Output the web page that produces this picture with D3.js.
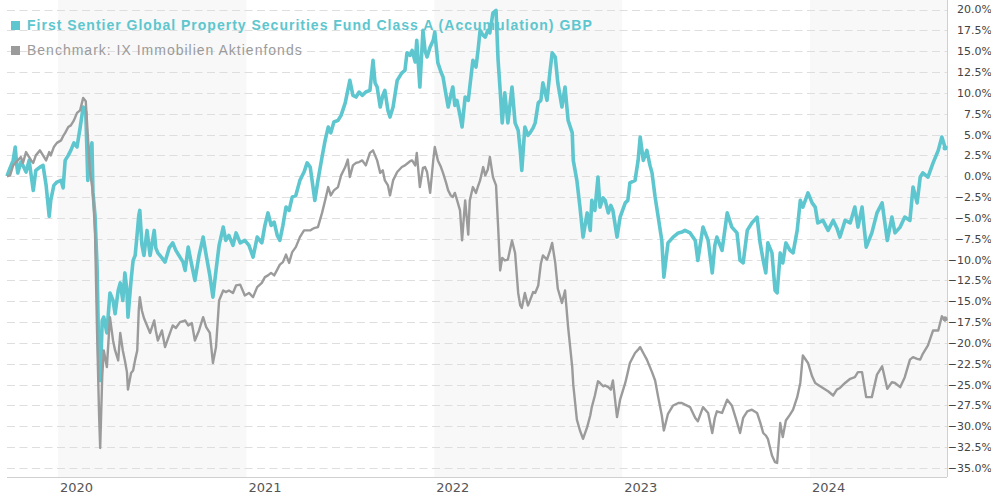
<!DOCTYPE html>
<html>
<head>
<meta charset="utf-8">
<script src="https://cdn.jsdelivr.net/npm/d3@7"></script>
<style>
  body { margin: 0; background: #fff; }
  svg { display: block; }
</style>
</head>
<body>
<div id="chart"></div>
<script>
// Series labels and colours
const fundName = "First Sentier Global Property Securities Fund Class A (Accumulation) GBP";
const benchName = "Benchmark: IX Immobilien Aktienfonds";

// Y ticks (percent) and year labels
const yTicks = [20, 17.5, 15, 12.5, 10, 7.5, 5, 2.5, 0, -2.5, -5, -7.5, -10, -12.5, -15, -17.5, -20, -22.5, -25, -27.5, -30, -32.5, -35];
const yearLabels = ["2020", "2021", "2022", "2023", "2024"];
const shadedYears = ["2020", "2022", "2024"];

// Observation dates (shared by both series)
const dates = [
  "2019-09-24","2019-09-30","2019-10-06","2019-10-10","2019-10-13","2019-10-15","2019-10-21","2019-10-25","2019-10-31","2019-11-06",
  "2019-11-10","2019-11-14","2019-11-19","2019-11-27","2019-12-03","2019-12-09","2019-12-15","2019-12-18","2019-12-24","2019-12-30",
  "2020-01-07","2020-01-11","2020-01-15","2020-01-21","2020-01-26","2020-02-01","2020-02-07","2020-02-13","2020-02-19","2020-02-24",
  "2020-02-28","2020-03-03","2020-03-07","2020-03-09","2020-03-13","2020-03-17","2020-03-21","2020-03-23","2020-03-27","2020-03-30",
  "2020-04-05","2020-04-11","2020-04-17","2020-04-21","2020-04-27","2020-05-01","2020-05-06","2020-05-10","2020-05-14","2020-05-16",
  "2020-05-22","2020-05-26","2020-05-30","2020-06-03","2020-06-06","2020-06-08","2020-06-12","2020-06-16","2020-06-22","2020-06-28",
  "2020-07-06","2020-07-09","2020-07-13","2020-07-21","2020-07-27","2020-08-04","2020-08-11","2020-08-17","2020-08-25","2020-08-31",
  "2020-09-04","2020-09-10","2020-09-17","2020-09-23","2020-10-01","2020-10-09","2020-10-15","2020-10-22","2020-10-28","2020-11-03",
  "2020-11-09","2020-11-17","2020-11-22","2020-11-28","2020-12-06","2020-12-12","2020-12-20","2020-12-29","2021-01-06","2021-01-14",
  "2021-01-22","2021-01-31","2021-02-06","2021-02-12","2021-02-18","2021-02-24","2021-03-02","2021-03-07","2021-03-13","2021-03-19",
  "2021-03-25","2021-03-31","2021-04-07","2021-04-15","2021-04-23","2021-04-29","2021-05-05","2021-05-10","2021-05-14","2021-05-20",
  "2021-05-28","2021-06-03","2021-06-09","2021-06-14","2021-06-20","2021-06-28","2021-07-04","2021-07-12","2021-07-17","2021-07-21",
  "2021-07-27","2021-08-02","2021-08-08","2021-08-14","2021-08-21","2021-08-29","2021-09-04","2021-09-08","2021-09-12","2021-09-18",
  "2021-09-23","2021-09-27","2021-10-03","2021-10-07","2021-10-13","2021-10-21","2021-10-30","2021-11-05","2021-11-09","2021-11-15",
  "2021-11-19","2021-11-25","2021-11-28","2021-12-04","2021-12-10","2021-12-14","2021-12-18","2021-12-24","2021-12-30","2022-01-02",
  "2022-01-08","2022-01-14","2022-01-18","2022-01-24","2022-01-28","2022-02-02","2022-02-06","2022-02-10","2022-02-14","2022-02-20",
  "2022-02-24","2022-03-02","2022-03-08","2022-03-11","2022-03-17","2022-03-23","2022-03-27","2022-03-31","2022-04-06","2022-04-10",
  "2022-04-15","2022-04-19","2022-04-25","2022-05-01","2022-05-05","2022-05-09","2022-05-13","2022-05-18","2022-05-24","2022-06-01",
  "2022-06-07","2022-06-13","2022-06-17","2022-06-20","2022-06-26","2022-07-02","2022-07-06","2022-07-12","2022-07-16","2022-07-22",
  "2022-07-27","2022-07-31","2022-08-08","2022-08-14","2022-08-18","2022-08-24","2022-08-29","2022-09-06","2022-09-12","2022-09-18",
  "2022-09-26","2022-09-28","2022-10-05","2022-10-11","2022-10-17","2022-10-25","2022-10-31","2022-11-03","2022-11-09","2022-11-15",
  "2022-11-19","2022-11-25","2022-11-29","2022-12-05","2022-12-10","2022-12-14","2022-12-22","2022-12-28","2023-01-07","2023-01-12",
  "2023-01-16","2023-01-26","2023-02-01","2023-02-05","2023-02-11","2023-02-18","2023-02-24","2023-02-28","2023-03-06","2023-03-12",
  "2023-03-19","2023-03-23","2023-03-31","2023-04-10","2023-04-20","2023-04-27","2023-05-03","2023-05-13","2023-05-23","2023-05-28",
  "2023-06-07","2023-06-17","2023-06-25","2023-06-30","2023-07-04","2023-07-14","2023-07-24","2023-08-02","2023-08-12","2023-08-18",
  "2023-08-24","2023-09-01","2023-09-10","2023-09-20","2023-09-26","2023-10-02","2023-10-07","2023-10-11","2023-10-19","2023-10-25",
  "2023-10-29","2023-11-04","2023-11-09","2023-11-15","2023-11-23","2023-11-29","2023-12-07","2023-12-13","2023-12-18","2023-12-28",
  "2024-01-05","2024-01-11","2024-01-16","2024-01-26","2024-02-05","2024-02-15","2024-02-22","2024-02-28","2024-03-09","2024-03-19",
  "2024-03-28","2024-04-03","2024-04-11","2024-04-19","2024-04-30","2024-05-10","2024-05-20","2024-05-30","2024-06-08","2024-06-14",
  "2024-06-24","2024-07-03","2024-07-13","2024-07-19","2024-07-27","2024-08-02","2024-08-07","2024-08-17","2024-08-27","2024-09-06",
  "2024-09-13","2024-09-19","2024-09-23"
];

// Fund performance (%)
const fundValues = [
  0.0, 1.0, 1.9, 3.5, 1.3, 0.4, 1.7, 1.3, 0.5, 1.9,
  0.1, -1.7, 0.7, 1.1, 1.3, -1.1, -4.8, -2.9, -1.1, -0.7,
  -0.5, -1.4, 1.9, 2.5, 3.1, 4.0, 3.5, 5.8, 8.3, 7.7,
  -0.5, 3.1, 4.0, -2.0, -4.7, -10.9, -24.1, -24.5, -17.3, -16.9,
  -18.8, -14.0, -14.9, -16.5, -13.7, -12.8, -14.9, -11.6, -13.7, -16.9,
  -12.5, -10.1, -9.5, -6.8, -4.7, -4.1, -8.2, -9.5, -6.5, -9.5,
  -6.5, -8.6, -9.2, -9.8, -10.3, -8.6, -8.0, -8.9, -9.7, -10.3,
  -11.3, -8.5, -10.7, -12.5, -9.5, -7.3, -9.5, -11.9, -14.5, -11.3,
  -8.3, -6.1, -7.7, -7.1, -8.3, -6.8, -8.0, -7.7, -8.3, -9.7,
  -7.3, -8.0, -5.9, -4.4, -5.9, -5.5, -7.1, -7.7, -5.9, -3.7,
  -4.1, -2.5, -2.3, -0.5, 0.5, 1.6, 1.1, -1.1, -2.9, -0.5,
  2.3, 4.3, 5.9, 5.2, 6.5, 6.7, 7.3, 8.8, 10.3, 11.5,
  9.7, 9.5, 10.1, 9.7, 10.1, 10.3, 13.9, 11.2, 10.7, 8.3,
  9.7, 10.3, 7.9, 7.1, 8.3, 11.5, 12.4, 12.7, 14.8, 14.5,
  15.1, 13.7, 16.3, 10.7, 17.5, 15.1, 14.3, 15.5, 16.3, 17.3,
  13.6, 12.5, 11.9, 9.7, 8.3, 9.7, 10.7, 8.5, 9.1, 7.3,
  5.9, 9.5, 9.1, 10.7, 13.9, 13.1, 15.1, 17.5, 16.9, 16.7,
  17.5, 17.2, 19.6, 19.9, 13.9, 10.3, 6.4, 10.0, 6.4, 10.7,
  6.4, 5.5, 3.1, 0.7, 5.9, 4.9, 5.2, 5.8, 6.4, 8.8,
  9.1, 11.2, 9.1, 12.7, 14.8, 14.3, 11.2, 8.3, 10.7, 6.7,
  5.2, 1.9, -0.5, -3.7, -7.3, -4.4, -6.5, -2.9, -4.1, -0.1,
  -3.7, -2.6, -2.9, -4.4, -3.5, -4.1, -7.3, -4.9, -3.2, -2.9,
  -0.8, -0.5, 1.9, 4.7, 1.9, 3.1, 1.3, 0.4, -2.5, -4.9,
  -7.7, -12.1, -8.0, -7.3, -6.8, -6.7, -6.5, -6.8, -7.7, -10.1,
  -6.1, -7.7, -11.6, -8.3, -7.3, -8.9, -4.4, -6.1, -6.8, -10.1,
  -10.4, -6.5, -5.6, -4.9, -8.0, -10.1, -11.6, -8.0, -9.2, -13.7,
  -14.0, -9.2, -10.4, -8.0, -8.9, -9.2, -6.5, -2.9, -3.7, -2.0,
  -3.2, -3.7, -5.6, -5.3, -6.5, -5.3, -6.2, -7.3, -5.3, -5.6,
  -3.7, -6.1, -3.7, -8.5, -6.8, -4.4, -3.2, -7.7, -4.9, -6.8,
  -6.1, -4.9, -5.3, -1.3, -3.2, -0.1, 0.4, -0.1, 1.6, 3.1,
  4.7, 3.5, 3.4
];

// Benchmark performance (%)
const benchValues = [
  0.0, 0.1, 1.3, 1.6, 1.8, 1.9, 2.3, 1.6, 2.9, 2.3,
  1.9, 1.6, 2.5, 3.1, 2.5, 1.9, 2.9, 2.5, 3.5, 4.0,
  4.3, 4.8, 5.2, 5.9, 6.1, 6.7, 7.6, 7.9, 9.4, 9.0,
  4.9, 0.7, -1.1, -2.0, -6.8, -18.8, -28.9, -32.6, -24.0, -20.9,
  -22.9, -16.9, -19.7, -20.9, -22.1, -18.8, -20.9, -22.1, -23.5, -25.6,
  -23.6, -23.3, -22.0, -20.9, -16.0, -14.5, -16.1, -17.0, -17.9, -18.8,
  -17.3, -18.5, -19.7, -18.5, -20.5, -19.1, -17.9, -18.2, -17.5, -17.4,
  -17.3, -17.9, -17.6, -19.7, -18.5, -16.9, -18.1, -18.8, -22.4, -20.5,
  -14.9, -13.7, -13.9, -13.7, -14.0, -13.1, -13.0, -14.3, -14.0, -14.5,
  -13.3, -12.8, -12.1, -11.9, -11.6, -11.9, -11.2, -10.6, -10.3, -9.4,
  -10.4, -9.1, -8.5, -7.3, -6.5, -6.5, -6.5, -6.3, -6.2, -6.1,
  -4.4, -2.9, -1.3, -2.3, -1.7, -1.3, 0.1, 1.1, 2.0, -0.1,
  1.3, 1.6, 1.7, 1.9, 1.3, 2.8, 3.1, 2.5, 1.9, 0.4,
  0.7, -0.5, -1.1, -2.3, -0.5, 0.5, 1.1, 1.3, 1.5, 1.8,
  1.9, 1.3, 2.8, -1.3, 1.0, 1.1, 0.5, -2.0, 1.9, 3.5,
  1.9, 1.1, 0.4, -0.8, -1.7, -2.3, -2.5, -2.0, -2.8, -4.1,
  -7.7, -2.9, -7.0, -2.9, -1.3, -2.0, -1.2, -0.5, 1.1, 0.1,
  0.8, 2.3, -0.1, -1.1, -6.0, -11.3, -9.8, -10.1, -10.0, -7.7,
  -9.2, -14.0, -15.5, -15.8, -14.0, -15.5, -14.9, -13.9, -14.0, -13.1,
  -10.5, -9.5, -10.0, -8.9, -8.0, -10.4, -13.5, -15.2, -13.7, -18.1,
  -22.9, -25.0, -29.2, -30.5, -31.5, -30.1, -28.7, -27.7, -26.3, -24.6,
  -24.8, -25.2, -25.1, -25.3, -25.6, -24.5, -28.9, -26.8, -24.8, -23.5,
  -22.4, -21.2, -20.8, -20.5, -21.2, -22.0, -22.9, -23.5, -24.5, -26.5,
  -28.7, -30.5, -28.5, -27.5, -27.2, -27.2, -27.4, -27.7, -29.0, -29.4,
  -27.7, -28.4, -30.8, -29.0, -28.2, -28.4, -26.8, -27.5, -29.5, -30.8,
  -29.0, -28.2, -28.0, -28.4, -29.5, -30.8, -31.1, -31.5, -33.5, -34.3,
  -34.4, -29.6, -31.3, -29.3, -28.6, -28.0, -26.5, -24.8, -21.5, -22.4,
  -24.0, -24.8, -25.0, -25.4, -25.8, -26.3, -25.6, -25.4, -24.8, -24.3,
  -24.1, -23.5, -23.5, -26.5, -26.5, -23.8, -22.8, -25.5, -24.7, -24.8,
  -25.3, -24.1, -22.0, -21.7, -21.9, -22.0, -21.3, -20.3, -18.5, -18.5,
  -16.8, -17.3, -17.1
];

// Layout
const width = 991;
const height = 496;
const plot = {left: 7, right: 947, top: 0, bottom: 477};
const fundColor = "#5dc6ce";
const benchColor = "#9b9b9b";

const parseDate = d3.timeParse("%Y-%m-%d");
const fundData = dates.map((d, i) => ({date: parseDate(d), value: fundValues[i]}));
const benchData = dates.map((d, i) => ({date: parseDate(d), value: benchValues[i]}));

const svg = d3.select("#chart")
    .append("svg")
    .attr("width", width)
    .attr("height", height);

// Scales
const x = d3.scaleTime()
    .domain([parseDate(dates[0]), parseDate(dates[dates.length - 1])])
    .range([plot.left, plot.right]);

const y = d3.scaleLinear()
    .domain([-35, 20])
    .range([468, 9.5]);

// Alternate year shading
svg.append("g")
    .selectAll("rect")
    .data(shadedYears)
    .join("rect")
    .attr("x", d => x(parseDate(d + "-01-01")))
    .attr("y", plot.top)
    .attr("width", d => Math.min(plot.right, x(parseDate((+d + 1) + "-01-01"))) - x(parseDate(d + "-01-01")))
    .attr("height", plot.bottom - plot.top)
    .attr("fill", "#f8f8f8");

// Dashed grid lines
svg.append("g")
    .selectAll("line")
    .data(yTicks)
    .join("line")
    .attr("x1", plot.left)
    .attr("x2", plot.right)
    .attr("y1", d => Math.round(y(d)) + 0.5)
    .attr("y2", d => Math.round(y(d)) + 0.5)
    .attr("stroke", "#dedede")
    .attr("stroke-dasharray", "8,4.5");

// Axis lines
svg.append("line")
    .attr("x1", plot.left).attr("x2", plot.right)
    .attr("y1", plot.bottom + 0.5).attr("y2", plot.bottom + 0.5)
    .attr("stroke", "#d0d0d0");
svg.append("line")
    .attr("x1", plot.right + 0.5).attr("x2", plot.right + 0.5)
    .attr("y1", plot.top).attr("y2", plot.bottom)
    .attr("stroke", "#d0d0d0");

// Y labels (right side)
svg.append("g")
    .selectAll("text")
    .data(yTicks)
    .join("text")
    .attr("x", 992)
    .attr("y", d => y(d))
    .attr("dy", "0.36em")
    .attr("text-anchor", "end")
    .attr("font-family", "'DejaVu Sans', Verdana, sans-serif")
    .attr("font-size", 11)
    .attr("fill", "#444")
    .text(d => d3.format(".1f")(d) + "%");

// Year labels
svg.append("g")
    .selectAll("text")
    .data(yearLabels)
    .join("text")
    .attr("x", d => x(parseDate(d + "-01-01")) + 2)
    .attr("y", 492)
    .attr("font-family", "'DejaVu Sans', Verdana, sans-serif")
    .attr("font-size", 13)
    .attr("fill", "#555")
    .text(d => d);

// Legend (drawn under the lines)
const legend = svg.append("g")
    .attr("font-family", "'Liberation Sans', Arial, sans-serif")
    .attr("letter-spacing", "1px");
legend.append("rect").attr("x", 11).attr("y", 21).attr("width", 9).attr("height", 9).attr("fill", fundColor);
legend.append("text").attr("x", 27).attr("y", 30)
    .attr("font-size", 14).attr("font-weight", "bold").attr("fill", fundColor)
    .text(fundName);
legend.append("rect").attr("x", 11).attr("y", 46).attr("width", 9).attr("height", 9).attr("fill", benchColor);
legend.append("text").attr("x", 27).attr("y", 55)
    .attr("font-size", 14).attr("fill", benchColor)
    .text(benchName);

// Lines
const line = d3.line()
    .x(d => x(d.date))
    .y(d => y(d.value));

svg.append("path")
    .datum(fundData)
    .attr("fill", "none")
    .attr("stroke", fundColor)
    .attr("stroke-width", 3.6)
    .attr("stroke-linejoin", "round")
    .attr("d", line);

svg.append("path")
    .datum(benchData)
    .attr("fill", "none")
    .attr("stroke", benchColor)
    .attr("stroke-width", 2.4)
    .attr("stroke-linejoin", "round")
    .attr("d", line);

// End markers
const lastFund = fundData[fundData.length - 1];
const lastBench = benchData[benchData.length - 1];
svg.append("circle").attr("cx", x(lastFund.date) - 2).attr("cy", y(lastFund.value)).attr("r", 2.5).attr("fill", fundColor);
svg.append("circle").attr("cx", x(lastBench.date) - 2).attr("cy", y(lastBench.value)).attr("r", 2.5).attr("fill", benchColor);
</script>
</body>
</html>
